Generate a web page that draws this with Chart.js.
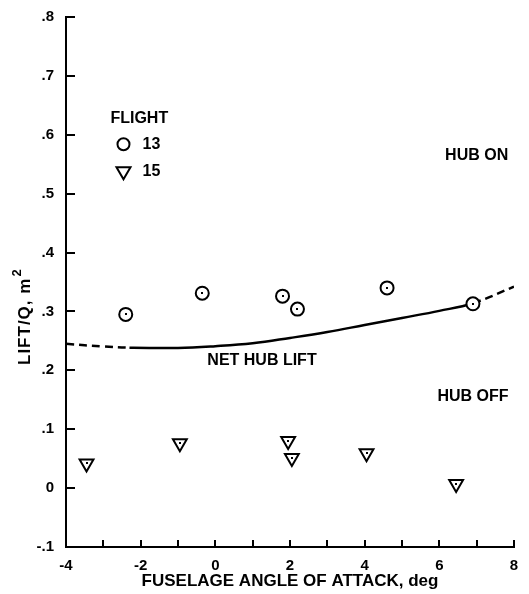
<!doctype html>
<html>
<head>
	<title>Net hub lift</title>
	<script src="https://cdn.jsdelivr.net/npm/chart.js@4/dist/chart.umd.min.js"></script>
	<style>
		body { margin: 0; background: #fff; }
		#wrap { width: 529px; height: 594px; }
	</style>
</head>
<body>
	<div id="wrap"><canvas id="canvas"></canvas></div>
	<script>
		// flight 13 (hub on)
		const flight13Alpha = [-2.4, -0.35, 1.8, 2.2, 4.6, 6.9];
		const flight13Lift = [0.295, 0.331, 0.326, 0.304, 0.340, 0.313];
		// flight 15 (hub off)
		const flight15Alpha = [-3.45, -0.95, 1.95, 2.05, 4.05, 6.45];
		const flight15Lift = [0.042, 0.076, 0.080, 0.051, 0.059, 0.007];
		// faired net hub lift curve
		const netAlpha = [-4, -3, -2.3, -1, 0, 1, 2, 3, 4, 5, 6, 6.9, 8];
		const netLift = [0.245, 0.2405, 0.2385, 0.238, 0.241, 0.246, 0.255, 0.265, 0.277, 0.289, 0.301, 0.314, 0.342];
		const xTicks = [-4, -2, 0, 2, 4, 6, 8];
		const xTickLabels = ['-4', '-2', '0', '2', '4', '6', '8'];
		const yTicks = [-0.1, 0, 0.1, 0.2, 0.3, 0.4, 0.5, 0.6, 0.7, 0.8];
		const yTickLabels = ['-.1', '0', '.1', '.2', '.3', '.4', '.5', '.6', '.7', '.8'];

		const FONT = '"Liberation Sans", Arial, sans-serif';
		Chart.defaults.color = '#000';
		Chart.defaults.font.family = FONT;

		const toPoints = (xs, ys) => xs.map((v, i) => ({x: v, y: ys[i]}));

		// small dot in the middle of every data symbol
		const centerDots = {
			id: 'centerDots',
			afterDatasetsDraw(chart) {
				const ctx = chart.ctx;
				ctx.save();
				ctx.fillStyle = '#000';
				chart.data.datasets.forEach((ds, i) => {
					if (!ds.centerDot) return;
					chart.getDatasetMeta(i).data.forEach((pt) => {
						ctx.fillRect(Math.round(pt.x) - 1, Math.round(pt.y) - 1, 2, 2);
					});
				});
				ctx.restore();
			}
		};

		// axis ticks point inward, into the plot, like the original
		const inwardTicks = {
			id: 'inwardTicks',
			afterDraw(chart) {
				const ctx = chart.ctx;
				const area = chart.chartArea;
				const xs = chart.scales.x;
				const ys = chart.scales.y;
				ctx.save();
				ctx.strokeStyle = '#000';
				ctx.lineWidth = 2;
				ctx.beginPath();
				yTicks.forEach((v) => {
					const py = Math.round(ys.getPixelForValue(v));
					ctx.moveTo(area.left, py);
					ctx.lineTo(area.left + 9, py);
				});
				for (let v = Math.ceil(xs.min); v <= xs.max; v++) {
					const px = Math.round(xs.getPixelForValue(v));
					ctx.moveTo(px, area.bottom);
					ctx.lineTo(px, area.bottom - 7);
				}
				ctx.stroke();
				ctx.restore();
			}
		};

		// key, curve notes and the y axis title
		const notes = {
			id: 'notes',
			afterDraw(chart) {
				const {ctx, scales: {x, y}} = chart;
				ctx.save();
				ctx.fillStyle = '#000';
				ctx.strokeStyle = '#000';
				ctx.lineWidth = 2;
				ctx.font = 'bold 16px ' + FONT;
				ctx.textBaseline = 'middle';

				ctx.textAlign = 'left';
				ctx.fillText('FLIGHT', x.getPixelForValue(-2.81), y.getPixelForValue(0.628));
				ctx.fillText('13', x.getPixelForValue(-1.95), y.getPixelForValue(0.584));
				ctx.fillText('15', x.getPixelForValue(-1.95), y.getPixelForValue(0.538));

				const cx = x.getPixelForValue(-2.46);
				const cy = y.getPixelForValue(0.584);
				ctx.beginPath();
				ctx.arc(cx, cy, 6, 0, Math.PI * 2);
				ctx.stroke();

				const ty = y.getPixelForValue(0.538);
				ctx.beginPath();
				ctx.moveTo(cx - 7, ty - 4);
				ctx.lineTo(cx + 7, ty - 4);
				ctx.lineTo(cx, ty + 8);
				ctx.closePath();
				ctx.stroke();

				ctx.textAlign = 'center';
				ctx.fillText('HUB ON', x.getPixelForValue(7.0), y.getPixelForValue(0.564));
				ctx.fillText('NET HUB LIFT', x.getPixelForValue(1.25), y.getPixelForValue(0.217));
				ctx.fillText('HUB OFF', x.getPixelForValue(6.9), y.getPixelForValue(0.155));

				// y axis title with a raised 2
				ctx.translate(25, 365);
				ctx.rotate(-Math.PI / 2);
				ctx.textAlign = 'left';
				ctx.font = 'bold 17px ' + FONT;
				ctx.letterSpacing = '1px';
				const main = 'LIFT/Q, m';
				ctx.fillText(main, 0, 0);
				const w = ctx.measureText(main).width;
				ctx.font = 'bold 13px ' + FONT;
				ctx.fillText('2', w + 1, -8);
				ctx.restore();
			}
		};

		const config = {
			type: 'scatter',
			data: {
				datasets: [{
					label: '13',
					data: toPoints(flight13Alpha, flight13Lift),
					pointStyle: 'circle',
					pointRadius: 6.5,
					borderWidth: 2,
					borderColor: '#000',
					backgroundColor: '#fff',
					centerDot: true
				}, {
					label: '15',
					data: toPoints(flight15Alpha, flight15Lift),
					pointStyle: 'triangle',
					rotation: 180,
					pointRadius: 8,
					borderWidth: 2,
					borderColor: '#000',
					backgroundColor: '#fff',
					centerDot: true
				}, {
					label: 'Net hub lift',
					data: toPoints(netAlpha, netLift),
					showLine: true,
					pointRadius: 0,
					borderWidth: 2.5,
					borderColor: '#000',
					tension: 0.4,
					segment: {
						borderDash: (ctx) => (ctx.p1.parsed.x <= -2.3 || ctx.p0.parsed.x >= 6.9) ? [8, 5] : undefined
					}
				}]
			},
			options: {
				responsive: true,
				maintainAspectRatio: false,
				animation: false,
				layout: {
					padding: {top: 17, right: 15, left: 0, bottom: 0}
				},
				plugins: {
					legend: {display: false},
					tooltip: {enabled: false}
				},
				scales: {
					x: {
						type: 'linear',
						min: -4,
						max: 8,
						afterBuildTicks: (scale) => {
							scale.ticks = xTicks.map((v) => ({value: v}));
						},
						afterFit: (scale) => {
							scale.height = 47;
						},
						grid: {display: false},
						border: {display: true, color: '#000', width: 2},
						ticks: {
							padding: 2,
							maxRotation: 0,
							font: {size: 15, weight: 'bold'},
							callback: (v, i) => xTickLabels[i]
						},
						title: {
							display: true,
							text: 'FUSELAGE ANGLE OF ATTACK, deg',
							font: {size: 17, weight: 'bold'},
							padding: {top: 0, bottom: 2}
						}
					},
					y: {
						type: 'linear',
						min: -0.1,
						max: 0.8,
						afterBuildTicks: (scale) => {
							scale.ticks = yTicks.map((v) => ({value: v}));
						},
						afterFit: (scale) => {
							scale.width = 66;
						},
						grid: {display: false},
						border: {display: true, color: '#000', width: 2},
						ticks: {
							padding: 4,
							font: {size: 15, weight: 'bold'},
							callback: (v, i) => yTickLabels[i]
						}
					}
				}
			},
			plugins: [centerDots, inwardTicks, notes]
		};

		window.onload = function() {
			window.myChart = new Chart(document.getElementById('canvas'), config);
		};
	</script>
</body>
</html>
